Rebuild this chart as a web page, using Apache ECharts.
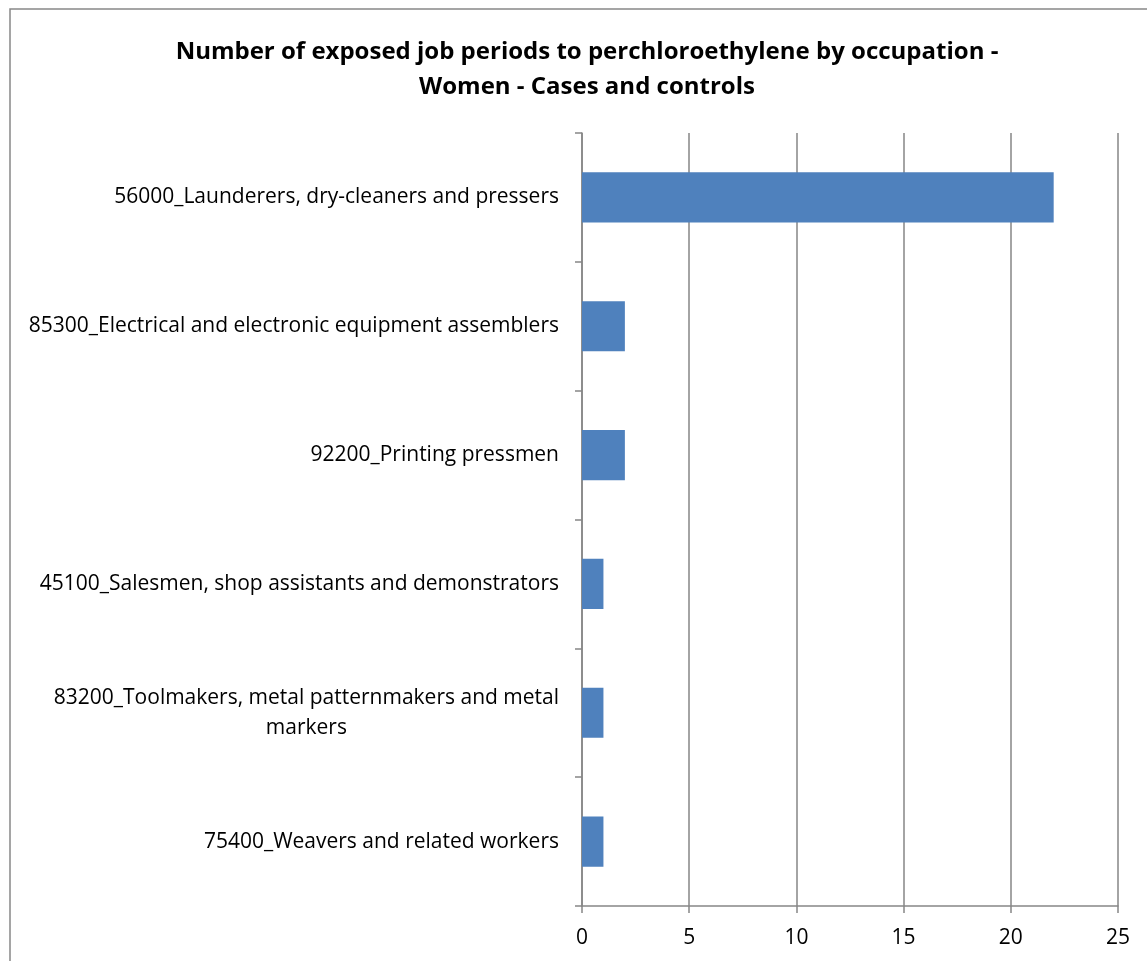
<!DOCTYPE html>
<html>
<head>
<meta charset="utf-8">
<script src="https://cdn.jsdelivr.net/npm/echarts@6/dist/echarts.min.js"></script>
<style>
  html, body { margin: 0; padding: 0; background: #fff; }
  #chart { width: 1147px; height: 961px; }
</style>
</head>
<body>
<div id="chart"></div>
<script>
// occupations, top to bottom
const occupations = [
  '56000_Launderers, dry-cleaners and pressers',
  '85300_Electrical and electronic equipment assemblers',
  '92200_Printing pressmen',
  '45100_Salesmen, shop assistants and demonstrators',
  '83200_Toolmakers, metal patternmakers and metal\nmarkers',
  '75400_Weavers and related workers'
]
const jobPeriods = [22, 2, 2, 1, 1, 1]
const xTicks = [0, 25, 5]  // min, max, interval

const chart = echarts.init(document.getElementById('chart'))
const fontFamily = '"Open Sans", Lato, sans-serif'
const axisGray = '#868686'

const option = {
  animation: false,
  textStyle: { fontFamily: fontFamily },
  title: {
    text: 'Number of exposed job periods to perchloroethylene by occupation -\nWomen - Cases and controls',
    left: 582,
    textAlign: 'center',
    top: 30,
    textStyle: {
      fontFamily: fontFamily,
      fontSize: 24,
      fontWeight: 'bold',
      color: '#000',
      lineHeight: 35,
      align: 'center'
    }
  },
  // outer chart border
  graphic: [{
    type: 'rect',
    shape: { x: 10, y: 9, width: 1160, height: 1000 },
    style: { fill: 'none', stroke: '#888', lineWidth: 1.5 },
    silent: true
  }],
  grid: {
    left: 582,
    right: 29,
    top: 133,
    bottom: 55,
    containLabel: false
  },
  xAxis: {
    type: 'value',
    min: xTicks[0],
    max: xTicks[1],
    interval: xTicks[2],
    axisLine: { show: true, lineStyle: { color: axisGray, width: 1.5 } },
    axisTick: { show: true, length: 7, lineStyle: { color: axisGray, width: 1.5 } },
    axisLabel: { color: '#000', fontSize: 21, margin: 22, fontFamily: fontFamily },
    splitLine: { show: true, lineStyle: { color: axisGray, width: 1.5 } }
  },
  yAxis: {
    type: 'category',
    inverse: true,
    data: occupations,
    axisLine: { show: true, lineStyle: { color: axisGray, width: 1.5 } },
    axisTick: { show: true, length: 7, alignWithLabel: false, lineStyle: { color: axisGray, width: 1.5 } },
    axisLabel: {
      color: '#000',
      fontSize: 21,
      margin: 23,
      fontFamily: fontFamily,
      lineHeight: 30,
      formatter: (v) => {
        const parts = v.split('\n')
        if (parts.length === 1) return v
        return parts[0] + '\n{c|' + parts[1] + '}'
      },
      rich: {
        c: { align: 'center', fontSize: 21, color: '#000', fontFamily: fontFamily, lineHeight: 30 }
      }
    },
    splitLine: { show: false }
  },
  series: [{
    type: 'bar',
    data: jobPeriods,
    barCategoryGap: '61%',
    itemStyle: { color: '#4F81BD' },
    silent: true
  }]
}
chart.setOption(option)
</script>
</body>
</html>
